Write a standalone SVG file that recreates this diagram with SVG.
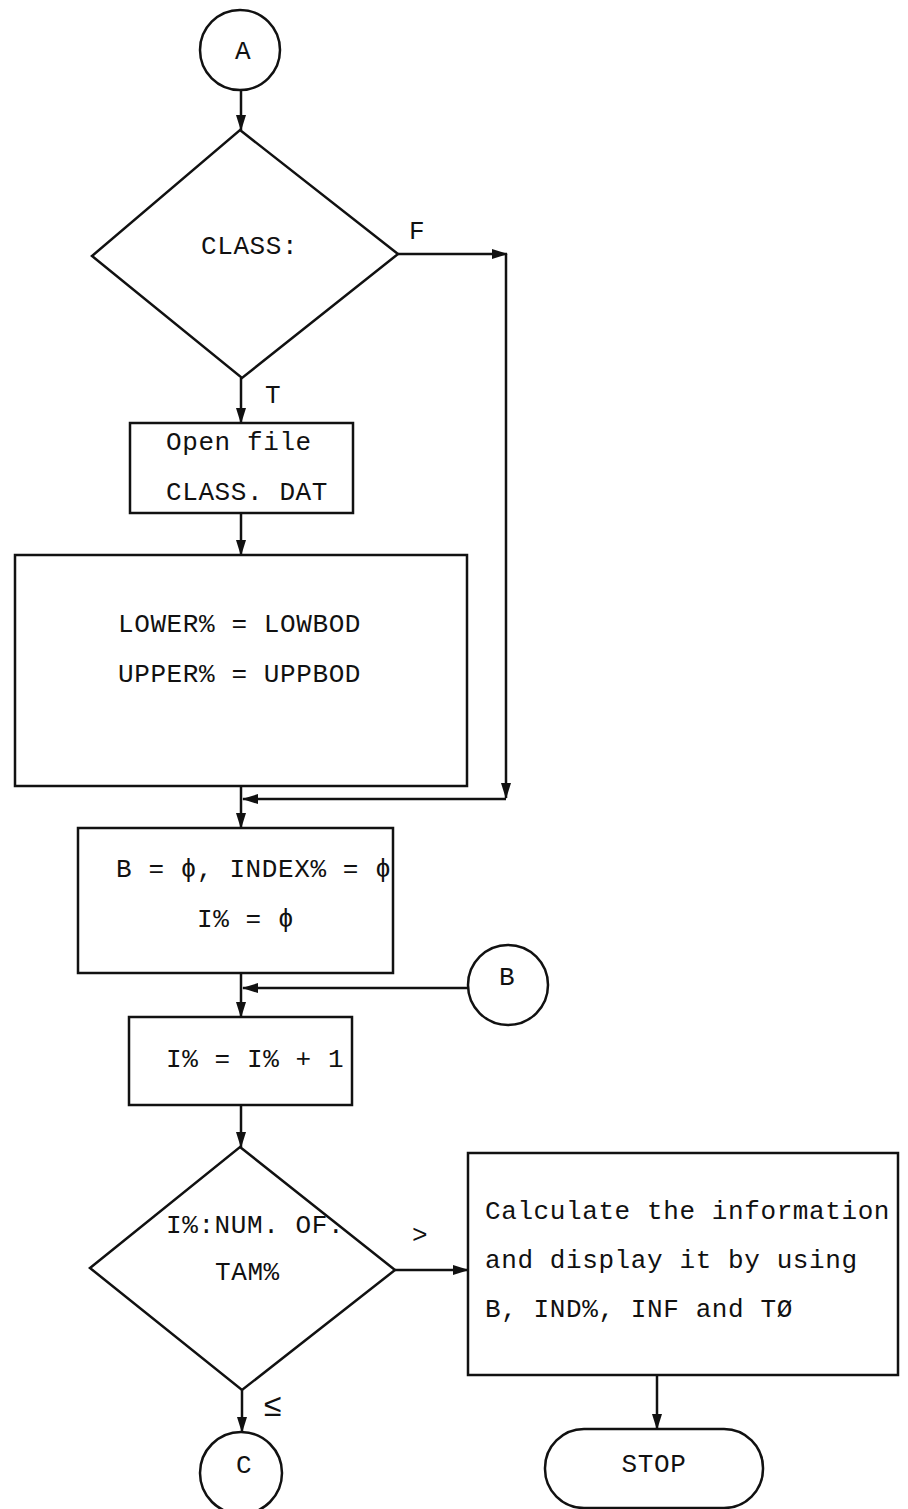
<svg xmlns="http://www.w3.org/2000/svg" width="908" height="1509" viewBox="0 0 908 1509">
<style>
.s{fill:none;stroke:#111;stroke-width:2.5}
.n{fill:#fff;stroke:#111;stroke-width:2.5}
.t{font-family:"Liberation Mono","DejaVu Sans Mono",monospace;font-size:26px;letter-spacing:0.6px;fill:#111}
.c{text-anchor:middle}
</style>
<defs>
<marker id="ah" markerUnits="userSpaceOnUse" markerWidth="16" markerHeight="12" refX="15" refY="6" orient="auto">
<path d="M0,1 L16,6 L0,11 z" fill="#111"/>
</marker>
</defs>
<rect width="908" height="1509" fill="#fff"/>
<g id="connectors">
<line class="s" x1="241" y1="91" x2="241" y2="130" marker-end="url(#ah)"/>
<line class="s" x1="398" y1="254" x2="507" y2="254" marker-end="url(#ah)"/>
<line class="s" x1="506" y1="254" x2="506" y2="798" marker-end="url(#ah)"/>
<line class="s" x1="506" y1="799" x2="243" y2="799" marker-end="url(#ah)"/>
<line class="s" x1="241" y1="378" x2="241" y2="423" marker-end="url(#ah)"/>
<line class="s" x1="241" y1="513" x2="241" y2="555" marker-end="url(#ah)"/>
<line class="s" x1="241" y1="786" x2="241" y2="828" marker-end="url(#ah)"/>
<line class="s" x1="241" y1="973" x2="241" y2="1017" marker-end="url(#ah)"/>
<line class="s" x1="468" y1="988" x2="243" y2="988" marker-end="url(#ah)"/>
<line class="s" x1="241" y1="1105" x2="241" y2="1147" marker-end="url(#ah)"/>
<line class="s" x1="395" y1="1270" x2="468" y2="1270" marker-end="url(#ah)"/>
<line class="s" x1="242" y1="1390" x2="242" y2="1432" marker-end="url(#ah)"/>
<line class="s" x1="657" y1="1375" x2="657" y2="1429" marker-end="url(#ah)"/>
<text class="t" x="409" y="239">F</text>
<text class="t" x="265" y="403">T</text>
<text class="t" x="412" y="1243">&gt;</text>
<text class="t" x="263" y="1416" style="font-size:32px">≤</text>
</g>
<g id="A">
<circle class="n" cx="240" cy="50" r="40"/>
<text class="t c" x="243" y="59">A</text>
</g>
<g id="class_decision">
<polygon class="n" points="240,130 398,254 242,378 92,256"/>
<text class="t" x="201" y="254">CLASS:</text>
</g>
<g id="open_file">
<rect class="n" x="130" y="423" width="223" height="90"/>
<text class="t" x="166" y="450">Open file</text>
<text class="t" x="166" y="500">CLASS. DAT</text>
</g>
<g id="bounds">
<rect class="n" x="15" y="555" width="452" height="231"/>
<text class="t" x="118" y="632">LOWER% = LOWBOD</text>
<text class="t" x="118" y="682">UPPER% = UPPBOD</text>
</g>
<g id="init">
<rect class="n" x="78" y="828" width="315" height="145"/>
<text class="t" x="116" y="877">B = ϕ, INDEX% = ϕ</text>
<text class="t" x="197" y="927">I% = ϕ</text>
</g>
<g id="B">
<circle class="n" cx="508" cy="985" r="40"/>
<text class="t c" x="507" y="985">B</text>
</g>
<g id="increment">
<rect class="n" x="129" y="1017" width="223" height="88"/>
<text class="t" x="166" y="1067">I% = I% + 1</text>
</g>
<g id="num_decision">
<polygon class="n" points="240,1147 395,1270 242,1390 90,1268"/>
<text class="t" x="166" y="1233">I%:NUM. OF.</text>
<text class="t" x="215" y="1280">TAM%</text>
</g>
<g id="calculate">
<rect class="n" x="468" y="1153" width="430" height="222"/>
<text class="t" x="485" y="1219">Calculate the information</text>
<text class="t" x="485" y="1268">and display it by using</text>
<text class="t" x="485" y="1317">B, IND%, INF and TØ</text>
</g>
<g id="C">
<circle class="n" cx="241" cy="1473" r="41"/>
<text class="t c" x="244" y="1473">C</text>
</g>
<g id="stop">
<rect class="n" x="545" y="1429" width="218" height="79" rx="39" ry="39"/>
<text class="t c" x="654" y="1472">STOP</text>
</g>
</svg>
